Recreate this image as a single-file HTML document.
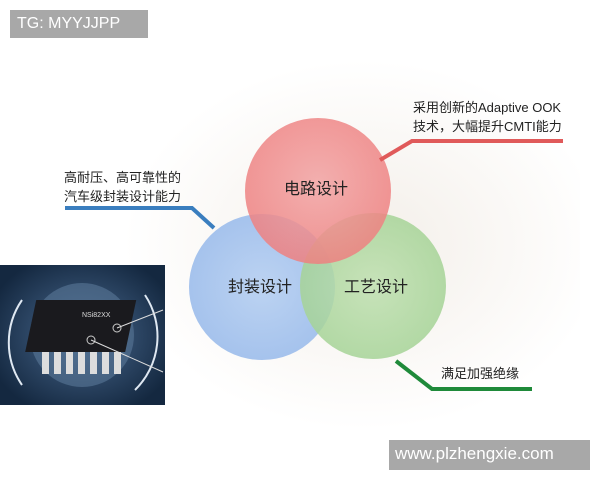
<!DOCTYPE html>
<html><head><meta charset="utf-8"><style>
body{margin:0;width:600px;height:480px;overflow:hidden;background:#fff;position:relative;font-family:"Liberation Sans","Noto Sans CJK SC",sans-serif}
.t{position:absolute;color:#222;font-size:13px;line-height:19px;white-space:nowrap}
</style></head><body>
<svg width="600" height="480" style="position:absolute;left:0;top:0">
<defs>
<radialGradient id="bg" cx="0.55" cy="0.5" r="0.5"><stop offset="0" stop-color="#f3eee8"/><stop offset="1" stop-color="#fff"/></radialGradient>
<radialGradient id="r" cx="0.5" cy="0.45" r="0.55"><stop offset="0" stop-color="#f2a3a3"/><stop offset="1" stop-color="#ee8080"/></radialGradient>
<radialGradient id="b" cx="0.5" cy="0.5" r="0.55"><stop offset="0" stop-color="#bcd3f2"/><stop offset="1" stop-color="#a3c1ec"/></radialGradient>
<radialGradient id="g" cx="0.5" cy="0.5" r="0.55"><stop offset="0" stop-color="#bfe0b0"/><stop offset="1" stop-color="#a3d294"/></radialGradient>
<radialGradient id="chip" cx="0.5" cy="0.5" r="0.6"><stop offset="0" stop-color="#4a6a90"/><stop offset="1" stop-color="#142840"/></radialGradient>
</defs>
<rect x="100" y="60" width="480" height="370" fill="url(#bg)"/>
<circle cx="262" cy="287" r="73" fill="url(#b)"/>
<circle cx="373" cy="286" r="73" fill="url(#g)" opacity="0.85"/>
<circle cx="318" cy="191" r="73" fill="url(#r)" opacity="0.85"/>
<polyline points="380,160 412,141 563,141" fill="none" stroke="#e05a5a" stroke-width="4"/>
<polyline points="65,208 192,208 214,228" fill="none" stroke="#3a7ebf" stroke-width="4"/>
<polyline points="396,361 432,389 532,389" fill="none" stroke="#1f8a3a" stroke-width="4"/>
<rect x="0" y="265" width="165" height="140" fill="url(#chip)"/>
<path d="M22,300 A75,75 0 0 0 22,385" fill="none" stroke="#dfe8f2" stroke-width="2"/>
<path d="M145,295 A75,75 0 0 1 135,390" fill="none" stroke="#dfe8f2" stroke-width="2"/>
<circle cx="82" cy="335" r="52" fill="#5a7898" opacity="0.6"/>
<rect x="40" y="300" width="100" height="52" fill="#1a1a1e" transform="skewX(-12) translate(60,0)"/>
<g fill="#ddd"><rect x="42" y="352" width="7" height="22"/><rect x="54" y="352" width="7" height="22"/><rect x="66" y="352" width="7" height="22"/><rect x="78" y="352" width="7" height="22"/><rect x="90" y="352" width="7" height="22"/><rect x="102" y="352" width="7" height="22"/><rect x="114" y="352" width="7" height="22"/></g>
<text x="82" y="317" fill="#ddd" font-size="7" font-family="Liberation Sans">NSi82XX</text>
<circle cx="117" cy="328" r="4" fill="none" stroke="#ccc"/><circle cx="91" cy="340" r="4" fill="none" stroke="#ccc"/>
<line x1="117" y1="328" x2="163" y2="310" stroke="#ddd"/><line x1="91" y1="340" x2="163" y2="372" stroke="#ddd"/>
<rect x="10" y="10" width="138" height="28" fill="#a8a8a8"/>
<rect x="389" y="440" width="201" height="30" fill="#a8a8a8"/>
</svg>
<div class="t" style="left:17px;top:14px;color:#fff;font-size:16px">TG: MYYJJPP</div>
<div class="t" style="left:395px;top:444px;color:#fff;font-size:17px">www.plzhengxie.com</div>
<div class="t" style="left:413px;top:98px">采用创新的Adaptive OOK<br>技术，大幅提升CMTI能力</div>
<div class="t" style="left:64px;top:168px">高耐压、高可靠性的<br>汽车级封装设计能力</div>
<div class="t" style="left:441px;top:364px">满足加强绝缘</div>
<div class="t" style="left:284px;top:180px;font-size:16px">电路设计</div>
<div class="t" style="left:228px;top:278px;font-size:16px">封装设计</div>
<div class="t" style="left:344px;top:278px;font-size:16px">工艺设计</div>
</body></html>
